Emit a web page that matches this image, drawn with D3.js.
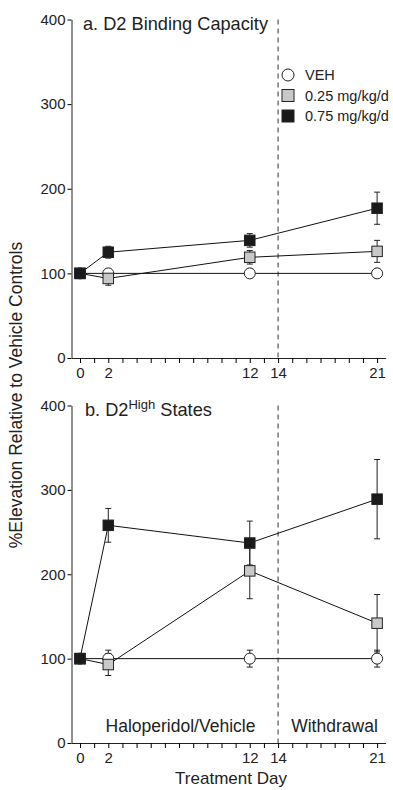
<!DOCTYPE html>
<html><head><meta charset="utf-8">
<script src="https://cdn.jsdelivr.net/npm/d3@7/dist/d3.min.js"></script>
<style>body{margin:0;background:#fff}svg{display:block;font-family:"Liberation Sans",Arial,sans-serif}</style>
</head><body><svg id="c" width="393" height="790"></svg>
<script>
const days = [0, 2, 12, 21];
const labelDays = [0, 2, 12, 14, 21];
const yTicks = [0, 100, 200, 300, 400];
const seriesNames = ["VEH", "0.25 mg/kg/d", "0.75 mg/kg/d"];
// Panel a: D2 Binding Capacity
const aVeh = [100, 100, 100, 100];
const aVehErr = [0, 5, 5, 5];
const aLow = [100, 94, 119, 126];
const aLowErr = [0, 8, 8, 13];
const aHigh = [100, 125, 139, 177];
const aHighErr = [0, 7, 8, 19];
// Panel b: D2High States
const bVeh = [100, 100, 100, 100];
const bVehErr = [0, 10, 10, 10];
const bLow = [100, 93, 204, 142];
const bLowErr = [0, 13, 33, 34];
const bHigh = [100, 258, 237, 289];
const bHighErr = [0, 20, 26, 47];

const svg = d3.select("#c");
const x = d3.scaleLinear().domain([-0.6, 21.6]).range([71.5, 385.6]);

function panel(yTop, yBot, data, titleFn, showLegend, phaseLabels) {
  const y = d3.scaleLinear().domain([0, 400]).range([yBot, yTop]);
  const g = svg.append("g");
  const ya = g.append("g").attr("transform", `translate(${x(-0.6)},0)`)
    .call(d3.axisLeft(y).tickValues(yTicks).tickSize(4).tickSizeOuter(0).tickPadding(2));
  ya.select(".domain").attr("stroke", "#222");
  ya.selectAll("text").attr("font-size", 15).attr("fill", "#222");
  const xa = g.append("g").attr("transform", `translate(0,${yBot})`)
    .call(d3.axisBottom(x).tickValues(d3.range(0, 22)).tickSize(5).tickSizeOuter(0)
      .tickFormat(d => labelDays.includes(d) ? d : ""));
  xa.select(".domain").attr("stroke", "#222");
  xa.selectAll("text").attr("font-size", 15).attr("fill", "#222").attr("dy", "0.8em");
  g.append("line").attr("x1", x(14)).attr("x2", x(14)).attr("y1", yTop).attr("y2", yBot)
    .attr("stroke", "#333").attr("stroke-dasharray", "5,4").attr("stroke-width", 1);
  titleFn(g, yTop);
  const line = d3.line().x((d, i) => x(days[i])).y(d => y(d));
  data.forEach(s => {
    g.append("path").attr("d", line(s.v)).attr("fill", "none").attr("stroke", "#111").attr("stroke-width", 1);
  });
  data.forEach(s => {
    s.v.forEach((v, i) => {
      const e = s.e[i]; if (!e) return;
      const cx = x(days[i]);
      g.append("line").attr("x1", cx).attr("x2", cx).attr("y1", y(v - e)).attr("y2", y(v + e)).attr("stroke", "#222");
      [v - e, v + e].forEach(t => g.append("line").attr("x1", cx - 3).attr("x2", cx + 3).attr("y1", y(t)).attr("y2", y(t)).attr("stroke", "#222"));
    });
  });
  data.forEach(s => {
    s.v.forEach((v, i) => {
      const cx = x(days[i]), cy = y(v);
      if (s.shape === "circle") g.append("circle").attr("cx", cx).attr("cy", cy).attr("r", 5.5).attr("fill", "#fff").attr("stroke", "#222");
      else g.append("rect").attr("x", cx - 5.25).attr("y", cy - 5.25).attr("width", 10.5).attr("height", 10.5).attr("fill", s.fill).attr("stroke", "#222");
    });
  });
  if (showLegend) {
    const items = [{shape:"circle", fill:"#fff"}, {shape:"rect", fill:"#c8c8c8"}, {shape:"rect", fill:"#1a1a1a"}];
    items.forEach((it, i) => {
      const ly = 75 + i * 20.5;
      if (it.shape === "circle") g.append("circle").attr("cx", 288).attr("cy", ly).attr("r", 6).attr("fill", "#fff").attr("stroke", "#222");
      else g.append("rect").attr("x", 282).attr("y", ly - 6).attr("width", 12).attr("height", 12).attr("fill", it.fill).attr("stroke", "#222");
      g.append("text").attr("x", 305).attr("y", ly + 5).attr("font-size", 14.5).attr("fill", "#222").text(seriesNames[i]);
    });
  }
  if (phaseLabels) {
    g.append("text").attr("x", 180.5).attr("y", yBot - 11).attr("text-anchor", "middle").attr("font-size", 17.5).attr("fill", "#222").text("Haloperidol/Vehicle");
    g.append("text").attr("x", 334.5).attr("y", yBot - 11).attr("text-anchor", "middle").attr("font-size", 17.5).attr("fill", "#222").text("Withdrawal");
  }
}

panel(19.5, 358, [
  {v: aVeh, e: aVehErr, shape: "circle"},
  {v: aLow, e: aLowErr, shape: "rect", fill: "#c8c8c8"},
  {v: aHigh, e: aHighErr, shape: "rect", fill: "#1a1a1a"}
], (g, yTop) => {
  g.append("text").attr("x", 83).attr("y", yTop + 10).attr("font-size", 18.2).attr("fill", "#222").text("a. D2 Binding Capacity");
}, true, false);

panel(405.5, 743, [
  {v: bVeh, e: bVehErr, shape: "circle"},
  {v: bLow, e: bLowErr, shape: "rect", fill: "#c8c8c8"},
  {v: bHigh, e: bHighErr, shape: "rect", fill: "#1a1a1a"}
], (g, yTop) => {
  const t = g.append("text").attr("x", 85).attr("y", yTop + 10).attr("font-size", 18.2).attr("fill", "#222");
  t.append("tspan").text("b. D2");
  t.append("tspan").attr("font-size", 13).attr("dy", -7).text("High");
  t.append("tspan").attr("dy", 7).text(" States");
}, false, true);

svg.append("text").attr("transform", "translate(22,395) rotate(-90)").attr("text-anchor", "middle")
  .attr("font-size", 17.5).attr("fill", "#222").text("%Elevation Relative to Vehicle Controls");
svg.append("text").attr("x", 231).attr("y", 784).attr("text-anchor", "middle")
  .attr("font-size", 17).attr("fill", "#222").text("Treatment Day");
</script></body></html>
